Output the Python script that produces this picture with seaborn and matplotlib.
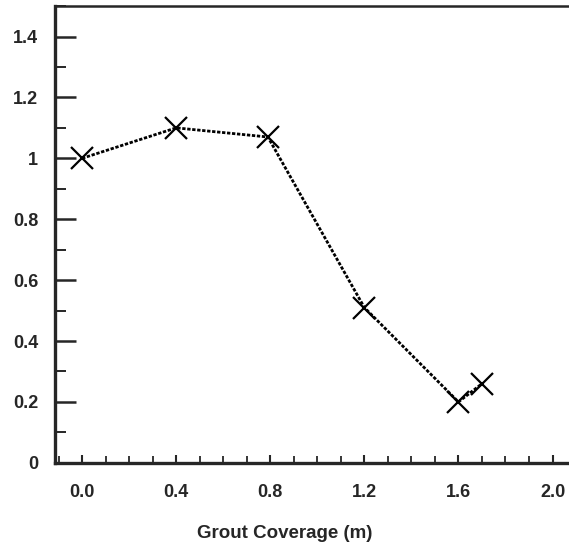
import numpy as np
import pandas as pd
import matplotlib
matplotlib.use("Agg")
import matplotlib.pyplot as plt
import seaborn as sns
from matplotlib.ticker import MultipleLocator, FixedLocator

# ==================== Data ==================== #
coverage = [0.0, 0.4, 0.79, 1.2, 1.6, 1.7]
ratio = [1.0, 1.10, 1.07, 0.51, 0.20, 0.26]

x_ticks = [0.0, 0.4, 0.8, 1.2, 1.6, 2.0]
x_tick_labels = ["0.0", "0.4", "0.8", "1.2", "1.6", "2.0"]
y_ticks = [0, 0.2, 0.4, 0.6, 0.8, 1.0, 1.2, 1.4]
y_tick_labels = ["0", "0.2", "0.4", "0.6", "0.8", "1", "1.2", "1.4"]

df = pd.DataFrame({"coverage": coverage, "ratio": ratio})

# ==================== Plot ==================== #
sns.set_style("ticks")
plt.rcParams["font.family"] = ["Liberation Sans", "DejaVu Sans"]
plt.rcParams["font.weight"] = "bold"

fig = plt.figure(figsize=(5.69, 5.51), dpi=100)
ax = fig.add_axes([0.0967, 0.16, 0.9033, 0.829])

sns.lineplot(data=df, x="coverage", y="ratio", ax=ax, color="black",
             linestyle=(0, (1.2, 0.6)), linewidth=2.0, marker="x",
             markersize=16, markeredgewidth=1.6, markeredgecolor="black")

ax.set_xlim(-0.115, 2.07)
ax.set_ylim(0, 1.5)

ax.xaxis.set_major_locator(FixedLocator(x_ticks))
ax.set_xticklabels(x_tick_labels)
ax.xaxis.set_minor_locator(MultipleLocator(0.1))
ax.yaxis.set_major_locator(FixedLocator(y_ticks))
ax.set_yticklabels(y_tick_labels)
ax.yaxis.set_minor_locator(MultipleLocator(0.1))

ax.tick_params(axis="x", which="major", direction="in", length=6, width=1.5,
               pad=15, labelsize=13)
ax.tick_params(axis="x", which="minor", direction="in", length=5, width=1.3)
ax.tick_params(axis="y", which="major", direction="in", length=15, width=1.8,
               pad=12, labelsize=13)
ax.tick_params(axis="y", which="minor", direction="in", length=8, width=1.4)
for lab in ax.get_xticklabels() + ax.get_yticklabels():
    lab.set_fontweight("bold")

ax.set_xlabel("Grout Coverage (m)", fontsize=13.5, fontweight="bold")
ax.xaxis.set_label_coords(0.447, -0.135)
ax.set_ylabel("")

ax.spines["left"].set_linewidth(2.4)
ax.spines["bottom"].set_linewidth(2.4)
ax.spines["top"].set_visible(True)
ax.spines["top"].set_linewidth(1.8)
ax.spines["right"].set_visible(False)

fig.savefig("out.png", dpi=100)
